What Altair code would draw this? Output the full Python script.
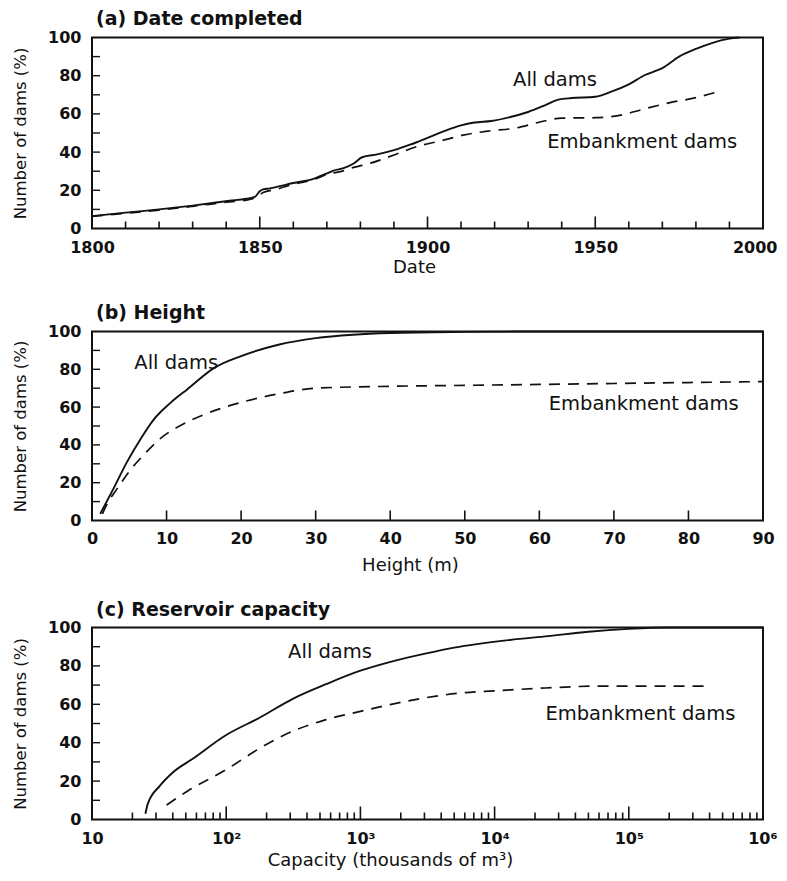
import altair as alt
import pandas as pd

FONT = "DejaVu Sans"
W = 671

# ---------------- (a) Date completed ----------------
a_all_year = [1800, 1810, 1820, 1830, 1841, 1846, 1848.5, 1850, 1851, 1853, 1860, 1866, 1870, 1872, 1875, 1878, 1880.5,
              1885, 1890, 1895, 1900, 1905, 1910, 1914, 1919, 1925, 1930, 1935, 1939, 1943, 1950, 1955, 1960, 1965,
              1968, 1970, 1975, 1980, 1985, 1990, 1993]
a_all_pct = [6.5, 8.3, 10, 12, 14.5, 15.6, 16.5, 19.5, 20.5, 21, 23.8, 26, 28.8, 30.3, 31.6, 34, 37.3,
             38.8, 41, 44, 47.5, 51, 54, 55.5, 56.3, 58.5, 61, 64.5, 67.5, 68.3, 69, 71.8, 75.5, 80.5,
             82.5, 84, 90, 94, 97.2, 99.4, 100]
a_emb_year = [1800, 1810, 1820, 1830, 1840, 1847, 1849, 1851, 1855, 1860, 1866, 1870, 1874, 1878, 1883, 1890, 1898,
              1903, 1911, 1918, 1926, 1933, 1940, 1950, 1958, 1964, 1972, 1980, 1987]
a_emb_pct = [6.3, 8, 9.6, 11.6, 13.8, 15.2, 16.5, 18.8, 20.5, 23.2, 25.5, 28.3, 29.8, 32, 34.2, 38.5, 43.5,
             45.5, 49, 51, 52.5, 55.5, 57.8, 58, 59.5, 62.3, 65.8, 68.5, 71.8]
a_major = [1850, 1900, 1950]
a_minor = [1810, 1820, 1830, 1840, 1860, 1870, 1880, 1890, 1910, 1920, 1930, 1940, 1960, 1970, 1980, 1990]
a_label_text = ["All dams", "Embankment dams"]
a_label_x = [1938, 1964]
a_label_y = [77.7, 45.5]

# ---------------- (b) Height ----------------
b_all_h = [1.1, 2.9, 4.7, 6.5, 8.3, 10.6, 12.8, 16.5, 20, 25, 30, 35, 40, 50, 60, 90]
b_all_pct = [3.5, 17, 31, 43, 53.5, 62.5, 69.5, 81, 87, 93, 96.5, 98.3, 99.2, 99.8, 100, 100]
b_emb_h = [1.4, 1.8, 3.4, 5.2, 7, 9.2, 11.5, 15, 20, 25, 30, 40, 50, 60, 70, 80, 90]
b_emb_pct = [3.5, 7, 17, 27, 35, 43.5, 49.5, 56, 62.5, 67, 70, 71, 71.5, 72, 72.5, 73, 73.5]
b_ticks = [10, 20, 30, 40, 50, 60, 70, 80]
b_label_text = ["All dams", "Embankment dams"]
b_label_x = [11.3, 74]
b_label_y = [83.4, 61.5]

# ---------------- (c) Reservoir capacity ----------------
c_all_cap = [25, 26, 32, 40, 56, 100, 177, 316, 555, 1000, 1650, 3100, 5000, 13000, 25000, 50000, 100000,
             200000, 1000000]
c_all_pct = [3, 8, 17.5, 24.5, 31.5, 44, 53, 63, 70.5, 77.5, 82, 86.5, 89.5, 93.5, 95.5, 97.8, 99.3,
             100, 100]
c_emb_cap = [36, 52, 100, 177, 313, 555, 1000, 1700, 3100, 5500, 10000, 24000, 62000, 380000]
c_emb_pct = [7.5, 15, 26, 37, 46, 52, 56.3, 60, 63.5, 65.8, 67, 68.5, 69.5, 69.5]
c_major = [100, 1000, 10000, 100000]
c_minor = [k * 10 ** d for d in range(1, 6) for k in range(2, 10)]
c_label_text = ["All dams", "Embankment dams"]
c_label_x = [594, 122000]
c_label_y = [87, 55]

y_ticks = [10, 20, 30, 40, 50, 60, 70, 80, 90]
y_values = [0, 20, 40, 60, 80, 100]

BLACK = "#111111"


def panel(title, xscale, xaxis, xs_all, ys_all, xs_emb, ys_emb, lab_t, lab_x, lab_y,
          tick_sets, interp, toff, H):
    yscale = alt.Scale(domain=[0, 100], nice=False, zero=False)
    yaxis = alt.Axis(values=y_values, title="Number of dams (%)", ticks=False, domain=False, grid=False,
                     labelPadding=11, titlePadding=19, labelFontWeight="bold", labelFontSize=16,
                     titleFontSize=16.5, titleFontWeight="normal", labelFont=FONT, titleFont=FONT,
                     labelColor=BLACK, titleColor=BLACK)

    def X(f):
        return alt.X(f, type="quantitative", scale=xscale, axis=xaxis)

    def Y(f):
        return alt.Y(f, type="quantitative", scale=yscale, axis=yaxis)

    d_all = pd.DataFrame({"x": xs_all, "y": ys_all})
    d_emb = pd.DataFrame({"x": xs_emb, "y": ys_emb})
    d_lab = pd.DataFrame({"x": lab_x, "y": lab_y, "t": lab_t})

    layers = [
        alt.Chart(d_all).mark_line(color=BLACK, strokeWidth=1.9, interpolate=interp).encode(
            x=X("x"), y=Y("y"), order="x:Q"),
        alt.Chart(d_emb).mark_line(color=BLACK, strokeWidth=1.7, strokeDash=[11, 8], interpolate=interp).encode(
            x=X("x"), y=Y("y"), order="x:Q"),
        alt.Chart(d_lab).mark_text(font=FONT, fontSize=19.5, color=BLACK, align="center",
                                   baseline="middle").encode(x=X("x"), y=Y("y"), text="t:N"),
    ]
    for vals, ln in tick_sets:
        d_t = pd.DataFrame({"v": vals})
        layers.append(
            alt.Chart(d_t).mark_rule(color=BLACK, strokeWidth=1.6).encode(
                x=X("v"), y=alt.value(H), y2=alt.value(H - ln)))
    d_yt = pd.DataFrame({"v": y_ticks})
    layers.append(
        alt.Chart(d_yt).mark_rule(color=BLACK, strokeWidth=1.4).encode(
            y=Y("v"), x=alt.value(0), x2=alt.value(8)))

    return alt.layer(*layers).properties(
        width=W, height=H,
        title=alt.TitleParams(title, anchor="start", frame="group", font=FONT, fontSize=19,
                              fontWeight="bold", color=BLACK, dx=4, offset=toff))


def xaxis(title, values, lpad, tpad, tx, last=None, label_expr=None):
    kw = dict(values=values, title=title, ticks=False, domain=False, grid=False, labelFlush=False,
              labelPadding=lpad, titlePadding=tpad, titleX=tx, labelFontWeight="bold", labelFontSize=16,
              titleFontSize=18, titleFontWeight="normal", labelFont=FONT, titleFont=FONT,
              labelColor=BLACK, titleColor=BLACK, labelOverlap=False)
    if last is not None:
        kw["labelAlign"] = {"condition": {"test": f"datum.value >= {last}", "value": "right"}, "value": "center"}
        kw["labelOffset"] = {"condition": {"test": f"datum.value >= {last}", "value": 14}, "value": 0}
    if label_expr:
        kw["labelExpr"] = label_expr
    return alt.Axis(**kw)


pa = panel("(a)  Date completed",
           alt.Scale(domain=[1800, 2000], nice=False, zero=False),
           xaxis("Date", [1800, 1850, 1900, 1950, 2000], 11, 3, 322, 2000, "format(datum.value, 'd')"),
           a_all_year, a_all_pct, a_emb_year, a_emb_pct, a_label_text, a_label_x, a_label_y,
           [(a_major, 12), (a_minor, 7)], "monotone", 1, 191)

pb = panel("(b)  Height",
           alt.Scale(domain=[0, 90], nice=False, zero=False),
           xaxis("Height (m)", [0, 10, 20, 30, 40, 50, 60, 70, 80, 90], 10, 10, 318),
           b_all_h, b_all_pct, b_emb_h, b_emb_pct, b_label_text, b_label_x, b_label_y,
           [(b_ticks, 10)], "monotone", 1, 189)

sup_expr = ("datum.value < 50 ? '10' : '10' + ['', '', '\u00b2', '\u00b3', '\u2074', '\u2075', '\u2076']"
            "[round(log(datum.value) / LN10)]")
pc = panel("(c)  Reservoir capacity",
           alt.Scale(type="log", domain=[10, 1000000], nice=False),
           xaxis("Capacity (thousands of m\u00b3)", [10, 100, 1000, 10000, 100000, 1000000], 11, 5, 298,
                 1000000, sup_expr),
           c_all_cap, c_all_pct, c_emb_cap, c_emb_pct, c_label_text, c_label_x, c_label_y,
           [(c_major, 13), (c_minor, 7)], "monotone", 0, 192)

chart = alt.vconcat(alt.vconcat(pa, pb, spacing=25), pc, spacing=24).properties(
    padding={"left": 3, "top": 0.5, "right": 0, "bottom": 0},
    background="white",
).configure_view(stroke=BLACK, strokeWidth=2)

chart.save("out.html", embed_options={"renderer": "svg", "actions": False})
